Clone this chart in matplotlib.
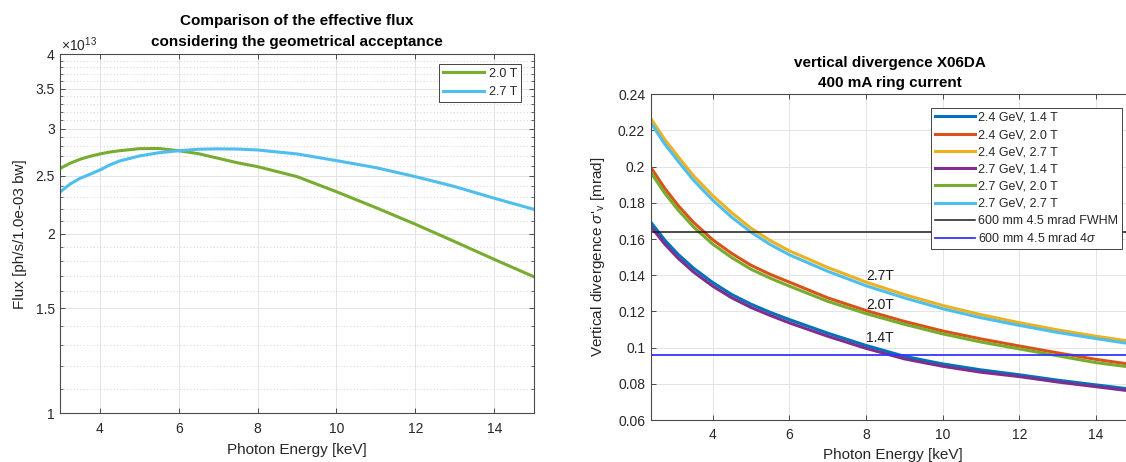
import matplotlib
matplotlib.use("Agg")
import matplotlib.pyplot as plt
import numpy as np

plt.rcParams['font.family'] = ['Liberation Sans', 'DejaVu Sans']
plt.rcParams['mathtext.fontset'] = 'custom'
plt.rcParams['mathtext.rm'] = 'Liberation Sans'
plt.rcParams['mathtext.it'] = 'Liberation Sans:italic'

# ---------------- data: left panel (flux, units of 1e13) ----------------
flux_energy = [3, 3.25, 3.5, 3.75, 4, 4.25, 4.5, 5, 5.5, 6, 6.5, 7, 7.5, 8,
               9, 10, 11, 12, 13, 14, 15]
flux_20T = [2.574, 2.625, 2.665, 2.695, 2.720, 2.740, 2.754, 2.776, 2.778, 2.754,
            2.723, 2.675, 2.628, 2.590, 2.492, 2.351, 2.211, 2.074, 1.939, 1.811, 1.694]
flux_27T = [2.351, 2.423, 2.476, 2.515, 2.557, 2.607, 2.647, 2.699, 2.733, 2.754,
            2.770, 2.774, 2.772, 2.762, 2.720, 2.651, 2.580, 2.492, 2.398, 2.293, 2.197]
flux_labels = ['2.0 T', '2.7 T']
flux_yticks = [1, 1.5, 2, 2.5, 3, 3.5, 4]
flux_xticks = [4, 6, 8, 10, 12, 14]

# ---------------- data: right panel (vertical divergence, mrad) ----------------
div_energy = [2.383, 2.75, 3.1, 3.5, 4, 4.5, 5, 5.5, 6, 7, 8, 9, 10, 11, 12, 13, 14, 15]
div_24_14 = [0.1694, 0.1594, 0.1515, 0.1439, 0.1360, 0.1293, 0.1240, 0.1195, 0.1155,
             0.1080, 0.1012, 0.0952, 0.0910, 0.0877, 0.0850, 0.0820, 0.0794, 0.0768]
div_24_20 = [0.1997, 0.1880, 0.1785, 0.1692, 0.1596, 0.1520, 0.1455, 0.1405, 0.1362,
             0.1275, 0.1205, 0.1145, 0.1092, 0.1048, 0.1009, 0.0971, 0.0935, 0.0905]
div_24_27 = [0.2267, 0.2150, 0.2055, 0.1950, 0.1840, 0.1745, 0.1660, 0.1592, 0.1535,
             0.1443, 0.1362, 0.1293, 0.1233, 0.1182, 0.1138, 0.1098, 0.1063, 0.1032]
div_27_14 = [0.1670, 0.1572, 0.1494, 0.1418, 0.1340, 0.1275, 0.1222, 0.1178, 0.1137,
             0.1063, 0.0996, 0.0938, 0.0897, 0.0864, 0.0840, 0.0810, 0.0784, 0.0758]
div_27_20 = [0.1969, 0.1853, 0.1760, 0.1667, 0.1572, 0.1497, 0.1433, 0.1384, 0.1340,
             0.1256, 0.1188, 0.1129, 0.1076, 0.1031, 0.0993, 0.0955, 0.0917, 0.0890]
div_27_27 = [0.2243, 0.2125, 0.2030, 0.1925, 0.1815, 0.1720, 0.1638, 0.1570, 0.1513,
             0.1422, 0.1342, 0.1275, 0.1215, 0.1165, 0.1123, 0.1084, 0.1050, 0.1018]
div_series = [div_24_14, div_24_20, div_24_27, div_27_14, div_27_20, div_27_27]
div_labels = ['2.4 GeV, 1.4 T', '2.4 GeV, 2.0 T', '2.4 GeV, 2.7 T',
              '2.7 GeV, 1.4 T', '2.7 GeV, 2.0 T', '2.7 GeV, 2.7 T']
hline_fwhm = 0.1639
hline_4sigma = 0.0961
hline_labels = ['600 mm 4.5 mrad FWHM', r'600 mm 4.5 mrad 4$\sigma$']
field_text = ['2.7T', '2.0T', '1.4T']
field_text_x = [8.0, 8.0, 8.0]
field_text_y = [0.1395, 0.1235, 0.1055]
div_yticks = [0.06, 0.08, 0.1, 0.12, 0.14, 0.16, 0.18, 0.2, 0.22, 0.24]
div_xticks = [4, 6, 8, 10, 12, 14]

matlab_colors = ['#0072BD', '#D95319', '#EDB120', '#7E2F8E', '#77AC30', '#4DBEEE']
TXT = '#262626'
AXC = '#4a4a4a'
GRID = '#e3e3e3'

W, H = 1126, 462
fig = plt.figure(figsize=(W / 100, H / 100), dpi=100)

def px_rect(l, t, r, b):
    return [l / W, 1 - b / H, (r - l) / W, (b - t) / H]

def style_axes(ax):
    for s in ax.spines.values():
        s.set_color(AXC)
        s.set_linewidth(0.8)
    ax.tick_params(which='both', direction='in', top=True, right=True,
                   colors=AXC, labelcolor=TXT, labelsize=10)
    ax.tick_params(which='major', length=3.5, width=0.7)
    ax.tick_params(which='minor', length=2, width=0.6)
    ax.tick_params(axis='x', pad=6)
    ax.tick_params(axis='y', pad=4)

# ---------------- left panel ----------------
ax1 = fig.add_axes(px_rect(60.4, 54, 533.7, 413.3))
ax1.set_yscale('log')
ax1.plot(flux_energy, flux_20T, color=matlab_colors[4], lw=2.2, label=flux_labels[0])
ax1.plot(flux_energy, flux_27T, color=matlab_colors[5], lw=2.2, label=flux_labels[1])
ax1.set_xlim(3, 15)
ax1.set_ylim(1, 4)
ax1.set_xticks(flux_xticks)
ax1.set_xticks([], minor=True)
ax1.set_yticks(flux_yticks)
ax1.set_yticklabels([f'{v:g}' for v in flux_yticks])
minor = [round(v, 1) for v in np.arange(1.0, 4.0, 0.1) if round(v, 1) not in flux_yticks]
ax1.set_yticks(minor, minor=True)
ax1.yaxis.set_minor_formatter(matplotlib.ticker.NullFormatter())
ax1.grid(True, which='major', color=GRID, lw=0.7)
ax1.grid(True, which='minor', axis='y', color='#c4c4c4', lw=0.6, linestyle=(0, (1, 3)))
ax1.set_axisbelow(True)
style_axes(ax1)
ax1.set_xlabel('Photon Energy [keV]', fontsize=11, color=TXT, va='center')
ax1.xaxis.set_label_coords(0.5, -(450 - 413.3) / 359.3)
ax1.set_ylabel('Flux [ph/s/1.0e-03 bw]', fontsize=11, color=TXT, va='center')
ax1.yaxis.set_label_coords((19.6 - 60.4) / 473.3, 0.5)
fig.text(61 / W, 1 - 45 / H, r'$\times10^{13}$', fontsize=10, color=TXT, ha='left', va='center')
fig.text(297 / W, 1 - 20.7 / H, 'Comparison of the effective flux', fontsize=11,
         fontweight='bold', color='#000000', ha='center', va='center')
fig.text(297 / W, 1 - 41.8 / H, 'considering the geometrical acceptance', fontsize=11,
         fontweight='bold', color='#000000', ha='center', va='center')
leg1 = ax1.legend(loc='upper right', bbox_to_anchor=(521.3 / W, 1 - 64 / H),
                  bbox_transform=fig.transFigure, borderaxespad=0, fontsize=9,
                  handlelength=3.3, handletextpad=0.4, labelspacing=0.52,
                  borderpad=0.3, fancybox=False, framealpha=1, edgecolor='#262626')
leg1.get_frame().set_linewidth(0.6)
for t in leg1.get_texts():
    t.set_color(TXT)

# ---------------- right panel ----------------
ax2 = fig.add_axes(px_rect(650.7, 94.3, 1134.3, 420))
for vals, c, lab in zip(div_series, matlab_colors, div_labels):
    ax2.plot(div_energy, vals, color=c, lw=2.2, label=lab)
ax2.axhline(hline_fwhm, color='#1a1a1a', lw=1.1, label=hline_labels[0])
ax2.axhline(hline_4sigma, color='#3535ff', lw=1.3, label=hline_labels[1])
for tx, ty, tt in zip(field_text_x, field_text_y, field_text):
    ax2.text(tx, ty, tt, fontsize=10, color='#1a1a1a', ha='left', va='center')
ax2.set_xlim(2.383, 15)
ax2.set_ylim(0.06, 0.24)
ax2.set_xticks(div_xticks)
ax2.set_yticks(div_yticks)
ax2.set_yticklabels([f'{v:g}' for v in div_yticks])
ax2.grid(True, which='major', color=GRID, lw=0.7)
ax2.set_axisbelow(True)
style_axes(ax2)
ax2.set_xlabel('Photon Energy [keV]', fontsize=11, color=TXT, va='center')
ax2.xaxis.set_label_coords(0.5, -(455 - 420) / 325.7)
ax2.set_ylabel(r"Vertical divergence $\sigma$'$_{\mathregular{v}}$ [mrad]", fontsize=11,
               color=TXT, va='center')
ax2.yaxis.set_label_coords((598 - 650.7) / 483.6, 0.5)
fig.text(890 / W, 1 - 62.6 / H, 'vertical divergence X06DA', fontsize=11,
         fontweight='bold', color='#000000', ha='center', va='center')
fig.text(890 / W, 1 - 82.6 / H, '400 mA ring current', fontsize=11,
         fontweight='bold', color='#000000', ha='center', va='center')
leg2 = ax2.legend(loc='upper right', bbox_to_anchor=(1122 / W, 1 - 108 / H),
                  bbox_transform=fig.transFigure, borderaxespad=0, fontsize=9,
                  handlelength=3.2, handletextpad=0.25, labelspacing=0.42,
                  borderpad=0.3, fancybox=False, framealpha=1, edgecolor='#262626')
leg2.get_frame().set_linewidth(0.6)
for t in leg2.get_texts():
    t.set_color(TXT)

fig.savefig('out.png', dpi=100)
